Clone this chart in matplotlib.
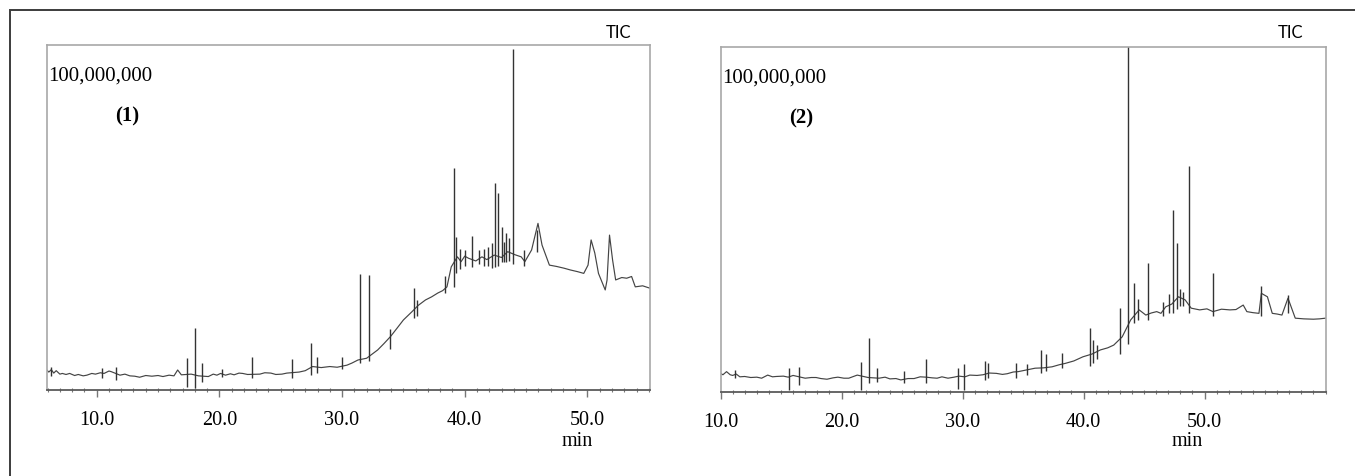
import matplotlib
matplotlib.use("Agg")
import matplotlib.pyplot as plt
from matplotlib.ticker import MultipleLocator, FormatStrFormatter
from matplotlib.patches import Rectangle

# ---- sample (1): baseline trace (min, % of full scale)
base1_t = [5.93, 6.1, 6.3, 6.5, 6.7, 7.0, 7.2, 7.5, 7.8, 8.2, 8.5, 8.9, 9.2, 9.6, 9.9, 10.3,
           10.6, 11.0, 11.2, 11.9, 12.3, 12.7, 13.1, 13.5, 14.0, 14.5, 15.0, 15.4, 15.9,
           16.3, 16.6, 16.9, 17.7, 18.3, 19.1, 19.5, 19.8, 20.1, 20.5, 20.9, 21.2, 21.6,
           21.9, 22.3, 23.3, 23.7, 24.2, 24.6, 25.1, 25.5, 26.5, 27.0, 27.6, 28.3,
           29.0, 29.6, 30.4, 30.8, 31.3, 32.0, 32.9, 33.4, 33.95, 34.5, 35.0, 35.7, 36.2,
           36.8, 37.3, 37.8, 38.2, 38.55, 38.9, 39.4, 39.7, 40.0, 40.3, 40.9, 41.4, 41.8,
           42.4, 43.0, 43.5, 44.1, 44.6, 44.9, 45.45, 45.97, 46.3, 46.9, 47.5, 48.1, 48.6,
           49.2, 49.7, 50.05, 50.3, 50.6, 50.9, 51.45, 51.6, 51.8, 52.05, 52.3, 52.8, 53.2,
           53.6, 53.9, 54.5, 55.1]
base1_y = [5.8, 5.2, 5.9, 4.9, 5.6, 4.6, 4.8, 4.5, 4.8, 4.2, 4.5, 4.1, 4.3, 4.8, 4.6, 5.0,
           4.8, 5.5, 5.3, 4.3, 4.6, 4.1, 4.0, 3.7, 4.2, 4.0, 4.2, 3.9, 4.3,
           4.1, 5.8, 4.4, 4.6, 4.1, 3.9, 4.6, 4.3, 4.8, 4.3, 4.7, 4.4, 4.9,
           4.8, 4.5, 4.6, 5.0, 4.9, 4.5, 4.6, 4.9, 5.2, 5.6, 6.8, 6.5,
           6.8, 6.6, 7.2, 7.8, 8.7, 9.2, 11.6, 13.4, 15.5, 18.0, 20.3, 22.7, 24.5,
           26.1, 27.0, 28.1, 28.8, 29.9, 35.7, 38.6, 37.2, 38.8, 38.2, 37.4, 38.6, 37.8,
           39.1, 38.4, 40.1, 39.2, 38.6, 37.2, 40.6, 48.3, 42.0, 36.2, 35.8, 35.3, 34.8,
           34.3, 33.8, 36.2, 43.5, 39.7, 33.8, 29.0, 31.9, 44.9, 37.7, 31.9, 32.6, 32.4,
           32.9, 29.9, 30.2, 29.5]

# sample (1): sharp peaks (retention time, lower end, apex)
peak1_t = [6.3, 10.4, 11.6, 17.4, 18.03, 18.6, 20.2, 22.7, 25.9, 27.45, 27.95, 29.98,
           31.5, 32.2, 33.9, 35.9, 36.1, 38.4, 39.15, 39.3, 39.6, 40.0, 40.6, 41.2,
           41.6, 41.9, 42.2, 42.5, 42.7, 43.0, 43.2, 43.4, 43.6, 43.9, 44.8, 45.9]
peak1_lo = [4.0, 3.5, 2.9, 1.0, 0.5, 2.4, 3.8, 3.4, 3.4, 4.3, 5.0, 6.0,
            7.7, 8.5, 12.0, 20.9, 21.5, 28.0, 30.0, 34.0, 35.0, 36.0, 35.7, 36.5,
            36.0, 36.0, 35.5, 35.7, 36.0, 37.0, 37.0, 37.0, 37.5, 36.5, 36.0, 40.0]
peak1_hi = [6.8, 6.5, 6.8, 9.2, 17.9, 7.7, 6.2, 9.5, 8.9, 13.7, 9.7, 9.5,
            33.6, 33.3, 17.6, 29.5, 26.0, 32.9, 64.3, 44.4, 41.0, 40.5, 44.6, 40.5,
            40.8, 41.5, 42.5, 59.9, 57.0, 47.3, 43.0, 45.4, 44.0, 98.7, 40.5, 46.5]

# ---- sample (2): baseline trace
base2_t = [10.0, 10.2, 10.5, 10.8, 11.0, 11.3, 11.6, 12.0, 12.5, 13.0, 13.4, 13.9, 14.3,
           14.6, 15.2, 15.6, 16.0, 16.5, 17.0, 17.5, 17.9, 18.3, 18.8, 19.3, 19.7, 20.2,
           20.6, 21.3, 22.2, 23.1, 23.6, 24.0, 24.5, 24.9, 25.5, 26.0, 26.5, 27.0, 27.5,
           27.9, 28.3, 28.8, 29.3, 29.7, 30.2, 30.6, 31.2, 31.7, 32.2, 32.8, 33.3, 33.7,
           34.2, 34.6, 35.3, 36.0, 36.7, 37.4, 38.0, 38.5, 39.2, 39.95, 40.7, 41.4, 42.0,
           42.5, 43.2, 43.9, 44.6, 45.15, 45.6, 46.05, 46.4, 46.8, 47.3, 47.85, 48.4, 48.9,
           49.6, 50.2, 50.7, 51.4, 52.1, 52.6, 53.2, 53.5, 54.0, 54.5, 54.7, 55.2, 55.6,
           56.0, 56.4, 56.9, 57.2, 57.5, 58.2, 59.0, 59.5, 60.0]
base2_y = [5.4, 5.0, 5.9, 5.0, 4.8, 5.2, 4.4, 4.5, 4.2, 4.3, 4.0, 4.9, 4.4,
           4.5, 4.6, 4.3, 4.8, 4.4, 4.0, 4.2, 4.2, 3.9, 3.7, 4.1, 4.3, 4.0,
           4.0, 4.9, 4.2, 4.0, 4.3, 3.8, 3.9, 3.5, 3.9, 3.9, 4.4, 4.3, 4.1,
           4.0, 4.4, 4.0, 4.3, 4.6, 4.4, 4.9, 4.8, 5.0, 5.5, 5.4, 5.1, 5.3,
           5.8, 5.9, 6.4, 6.9, 7.0, 7.3, 7.9, 8.3, 9.0, 10.2, 11.0, 12.2, 12.8,
           13.6, 16.0, 20.9, 23.8, 22.3, 22.9, 23.3, 22.8, 24.7, 25.5, 27.6, 26.7, 24.3,
           23.8, 24.1, 23.3, 24.0, 23.8, 23.9, 25.2, 23.3, 23.0, 22.8, 28.6, 27.6, 22.8,
           22.6, 22.3, 27.2, 24.3, 21.4, 21.2, 21.1, 21.2, 21.4]

peak2_t = [11.2, 15.7, 16.5, 21.6, 22.3, 22.9, 25.2, 27.0, 29.6, 30.1, 31.9, 32.1,
           34.4, 35.3, 36.5, 36.9, 38.2, 40.5, 40.8, 41.1, 43.0, 43.7, 44.2, 44.5,
           45.3, 46.6, 47.1, 47.4, 47.7, 47.95, 48.2, 48.7, 50.7, 54.7, 56.9]
peak2_lo = [4.0, 0.6, 2.0, 0.6, 2.6, 3.0, 2.5, 2.5, 1.0, 0.6, 3.5, 4.0,
            4.0, 5.0, 5.5, 6.0, 7.0, 7.5, 8.5, 9.5, 11.0, 14.0, 20.0, 21.0,
            21.0, 22.0, 23.0, 23.0, 24.0, 25.0, 25.0, 23.0, 22.0, 22.0, 23.0]
peak2_hi = [6.5, 6.9, 7.3, 8.7, 15.7, 7.0, 6.0, 9.5, 7.0, 8.0, 9.0, 8.5,
            8.5, 8.0, 12.2, 11.0, 11.2, 18.5, 15.0, 13.5, 24.3, 105.0, 31.5, 27.0,
            37.3, 26.0, 28.5, 52.8, 43.1, 30.0, 29.0, 65.5, 34.6, 30.7, 28.0]

tick_vals = [10, 20, 30, 40, 50]
panels = [
    dict(t=base1_t, y=base1_y, pt=peak1_t, plo=peak1_lo, phi=peak1_hi,
         xlim=(5.95, 55.1), rect=[47 / 1355, 1 - 390 / 476, 603 / 1355, 345 / 476],
         tag="(1)", tic_x=618, min_x=577, min_y=442),
    dict(t=base2_t, y=base2_y, pt=peak2_t, plo=peak2_lo, phi=peak2_hi,
         xlim=(10.0, 60.0), rect=[720.5 / 1355, 1 - 392 / 476, 605 / 1355, 345 / 476],
         tag="(2)", tic_x=1290, min_x=1187, min_y=441),
]

serif = "Liberation Serif"
fig = plt.figure(figsize=(13.55, 4.76), dpi=100)

# outer frame (right and bottom edges are cut off in the source)
fig.patches.append(Rectangle((9.5 / 1355, -0.05), 1.1, 1 - 9.5 / 476 + 0.05,
                             transform=fig.transFigure, fill=False,
                             edgecolor="#3c3c3c", linewidth=1.4))

for p in panels:
    ax = fig.add_axes(p["rect"])
    ax.plot(p["t"], p["y"], color="#444444", lw=0.85)
    ax.vlines(p["pt"], p["plo"], p["phi"], color="#333333", lw=1.0)
    ax.set_xlim(*p["xlim"])
    ax.set_ylim(0, 100)

    ax.xaxis.set_major_locator(plt.FixedLocator(tick_vals))
    ax.xaxis.set_major_formatter(FormatStrFormatter("%.1f"))
    ax.xaxis.set_minor_locator(MultipleLocator(1))
    ax.tick_params(axis="x", which="major", direction="out", length=5, width=1,
                   color="#777777", pad=10, labelsize=14.5)
    ax.tick_params(axis="x", which="minor", direction="inout", length=3, width=0.8,
                   color="#777777")
    for lab in ax.get_xticklabels():
        lab.set_fontfamily(serif)
    ax.set_yticks([])

    for side in ["top", "left", "right"]:
        ax.spines[side].set_color("#a8a8a8")
        ax.spines[side].set_linewidth(1.2)
    ax.spines["bottom"].set_color("#5a5a5a")
    ax.spines["bottom"].set_linewidth(1.3)

    ax.text(0.002, 0.91, "100,000,000", transform=ax.transAxes, ha="left", va="center",
            fontsize=15, family=serif)
    ax.text(0.133, 0.794, p["tag"], transform=ax.transAxes, ha="center", va="center",
            fontsize=15, family=serif, fontweight="bold")

    fig.text(p["tic_x"] / 1355, 1 - 33 / 476, "TIC", ha="center", va="center",
             fontsize=12, family="Lato")
    fig.text(p["min_x"] / 1355, 1 - p["min_y"] / 476, "min", ha="center", va="center",
             fontsize=14.5, family=serif)

fig.savefig("out.png", dpi=100)
